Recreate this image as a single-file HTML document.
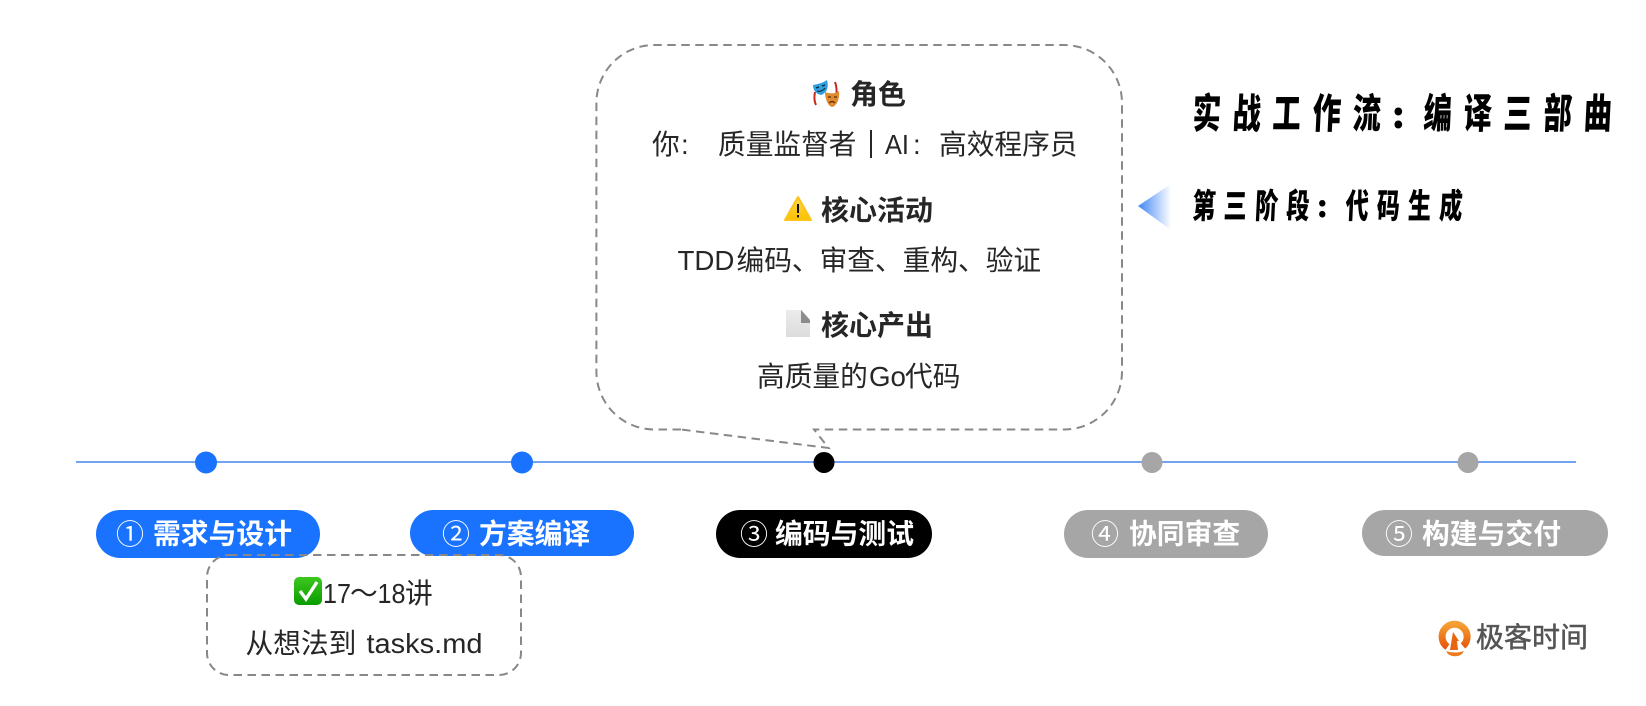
<!DOCTYPE html>
<html><head><meta charset="utf-8">
<style>
html,body{margin:0;padding:0;background:#fff;width:1646px;height:706px;overflow:hidden}
svg{display:block}
text{font-family:"Liberation Sans","Noto Sans CJK SC",sans-serif}
.b{font-size:27.7px;fill:#262626}
.h{font-size:28px;font-weight:700;fill:#262626}
.p{font-size:27.8px;font-weight:700;fill:#fff}
.n{font-size:28px;font-weight:400;fill:#fff;font-family:"Noto Sans CJK SC",sans-serif}
.t{font-family:"Noto Sans CJK SC",sans-serif;font-weight:900;fill:#000}
</style></head><body>
<svg width="1646" height="706" viewBox="0 0 1646 706" xmlns="http://www.w3.org/2000/svg">
<defs>
<linearGradient id="tri" x1="0" x2="1" y1="0" y2="0"><stop offset="0" stop-color="#3f86f5"/><stop offset="1" stop-color="#fff"/></linearGradient>
<linearGradient id="org" x1="0" x2="0" y1="0" y2="1"><stop offset="0" stop-color="#f5a033"/><stop offset="1" stop-color="#e8590c"/></linearGradient>
<linearGradient id="grn" x1="0" x2="0" y1="0" y2="1"><stop offset="0" stop-color="#3cc81e"/><stop offset="1" stop-color="#0a9c00"/></linearGradient>
<linearGradient id="yel" x1="0" x2="0" y1="0" y2="1"><stop offset="0" stop-color="#ffdb4d"/><stop offset="1" stop-color="#fcc000"/></linearGradient>
<linearGradient id="doc" x1="0" x2="0" y1="0" y2="1"><stop offset="0" stop-color="#ececec"/><stop offset="1" stop-color="#dcdcdc"/></linearGradient>
</defs>

<!-- timeline -->
<line x1="76" x2="1576" y1="462" y2="462" stroke="#74a3f3" stroke-width="2"/>
<circle cx="206" cy="462.5" r="11" fill="#1a73ff"/>
<circle cx="522" cy="462.5" r="11" fill="#1a73ff"/>
<circle cx="824" cy="462.5" r="10.5" fill="#000"/>
<circle cx="1152" cy="462.5" r="10.5" fill="#a6a6a6"/>
<circle cx="1468" cy="462.5" r="10.5" fill="#a6a6a6"/>

<!-- pills -->
<rect x="96" y="510" width="224" height="48" rx="24" fill="#1a73ff"/>
<rect x="410" y="510" width="224" height="46" rx="23" fill="#1a73ff"/>
<rect x="716" y="510" width="216" height="48" rx="24" fill="#000"/>
<rect x="1064" y="510" width="204" height="48" rx="24" fill="#a6a6a6"/>
<rect x="1362" y="510" width="246" height="46" rx="23" fill="#a6a6a6"/>

<text class="n" x="116" y="544">①</text><text class="p" x="153" y="543.5">需求与设计</text>
<text class="n" x="442" y="544">②</text><text class="p" x="479" y="543.5">方案编译</text>
<text class="n" x="740" y="544">③</text><text class="p" x="775" y="543.5">编码与测试</text>
<text class="n" x="1091" y="544">④</text><text class="p" x="1129" y="543.5">协同审查</text>
<text class="n" x="1385" y="544">⑤</text><text class="p" x="1422" y="543.5">构建与交付</text>

<!-- callout -->
<path d="M681 429.5 H654 A58 58 0 0 1 596.4 371.5 V103 A58 58 0 0 1 654 45 H1064 A58 58 0 0 1 1122 103 V371.5 A58 58 0 0 1 1064 429.5 H814 L828.6 448 L681 429.5 Z" fill="none" stroke="#888" stroke-width="2" stroke-dasharray="8.5 5.5"/>

<!-- mask emoji -->
<g>
<path d="M815 92 C814 97 814 101 816 105" fill="none" stroke="#c8281e" stroke-width="2"/>
<path d="M835 82 C837 87 837 92 836 98" fill="none" stroke="#c8281e" stroke-width="2"/>
<path d="M813 85 C818 84 823 83 827 80 C829 87 827 93 821 95 C816 94 813 90 813 85Z" fill="#2f9fe0"/>
<path d="M816 88 l3 -1 M822 86 l3 -1" stroke="#123" stroke-width="1.2"/>
<path d="M817 91 C819 92 823 91 825 88" stroke="#123" stroke-width="1" fill="none"/>
<path d="M825 92 C830 94 835 94 839 91 C840 98 837 106 832 107 C828 106 825 99 825 92Z" fill="#e08a2e"/>
<path d="M828 97 h3 M834 97 h3 M829 103 C831 101 833 101 835 103" stroke="#5a2c08" stroke-width="1.2" fill="none"/>
</g>
<text class="h" x="850" y="104">角色</text>

<text class="b" x="652" y="154">你</text>
<text class="b" x="681" y="154">:</text>
<text class="b" x="718" y="154">质量监督者</text>
<rect x="870" y="130" width="2" height="28" fill="#262626"/>
<text class="b" x="885" y="154" textLength="24" lengthAdjust="spacingAndGlyphs">AI</text>
<text class="b" x="913" y="154">:</text>
<text class="b" x="939" y="154">高效程序员</text>

<!-- warning emoji -->
<path d="M798 197 L811 220 H785 Z" fill="url(#yel)" stroke="#fcc419" stroke-width="2" stroke-linejoin="round"/>
<rect x="797" y="204" width="2" height="9" fill="#111"/><rect x="797" y="215" width="2" height="2.4" fill="#111"/>
<text class="h" x="821" y="220">核心活动</text>

<text class="b" x="677.5" y="270">TDD</text>
<text class="b" x="736.5" y="270">编码、审查、重构、验证</text>

<!-- doc emoji -->
<path d="M786 310 H802 L810 320 V337 H786 Z" fill="url(#doc)"/>
<path d="M801 310 L810 320 V323 H801 Z" fill="#8c8c8c"/>
<text class="h" x="821" y="335">核心产出</text>

<text class="b" x="757" y="386">高质量的</text>
<text class="b" x="869" y="386">Go</text>
<text class="b" x="905" y="386">代码</text>

<!-- small box -->
<rect x="207" y="555" width="314" height="120" rx="22" fill="none" stroke="#888" stroke-width="2" stroke-dasharray="8.5 5.5"/>
<rect x="294" y="577" width="28" height="28" rx="5" fill="url(#grn)"/>
<path d="M300 591 L306 599 L317 582" fill="none" stroke="#fff" stroke-width="3.4"/>
<text class="b" x="323" y="603" textLength="28" lengthAdjust="spacingAndGlyphs">17</text>
<text class="b" x="350" y="603">～</text>
<text class="b" x="377.5" y="603" textLength="28" lengthAdjust="spacingAndGlyphs">18</text>
<text class="b" x="405" y="603">讲</text>
<text class="b" x="245.5" y="653">从想法到</text>
<text class="b" x="366.5" y="653" textLength="116" lengthAdjust="spacingAndGlyphs">tasks.md</text>

<!-- titles -->
<g transform="translate(1192,128) scale(.69,1) skewX(-4)">
<text class="t" font-size="41" x="0 58 116 174 232">实战工作流</text>
</g>
<text class="t" font-size="36" x="1392" y="128">:</text>
<g transform="translate(1423,128) scale(.69,1) skewX(-4)">
<text class="t" font-size="41" x="0 58 116 174 232">编译三部曲</text>
</g>
<path d="M1138 206 L1171 184 V230 Z" fill="url(#tri)"/>
<g transform="translate(1192,218) scale(.68,1) skewX(-4)">
<text class="t" font-size="34" x="0 46 92 138">第三阶段</text>
</g>
<text class="t" font-size="30" x="1317" y="217">:</text>
<g transform="translate(1345,218) scale(.68,1) skewX(-4)">
<text class="t" font-size="34" x="0 46 92 138">代码生成</text>
</g>

<!-- logo -->
<path d="M1447.5 647 A12.5 12.5 0 1 1 1463 646" fill="none" stroke="url(#org)" stroke-width="7"/>
<path d="M1446 651 C1451 653 1459 653 1464 651 L1462 654 C1458 657 1452 657 1448 654 Z" fill="#ee7a1c"/>
<path d="M1453 632 L1459 641 L1457 641 L1458 650 L1450 650 Z" fill="#e8650f"/>
<text x="1476" y="647" font-size="28" stroke="#555" stroke-width=".5" style="font-family:'Noto Sans CJK SC',sans-serif;fill:#555">极客时间</text>
</svg>
</body></html>
